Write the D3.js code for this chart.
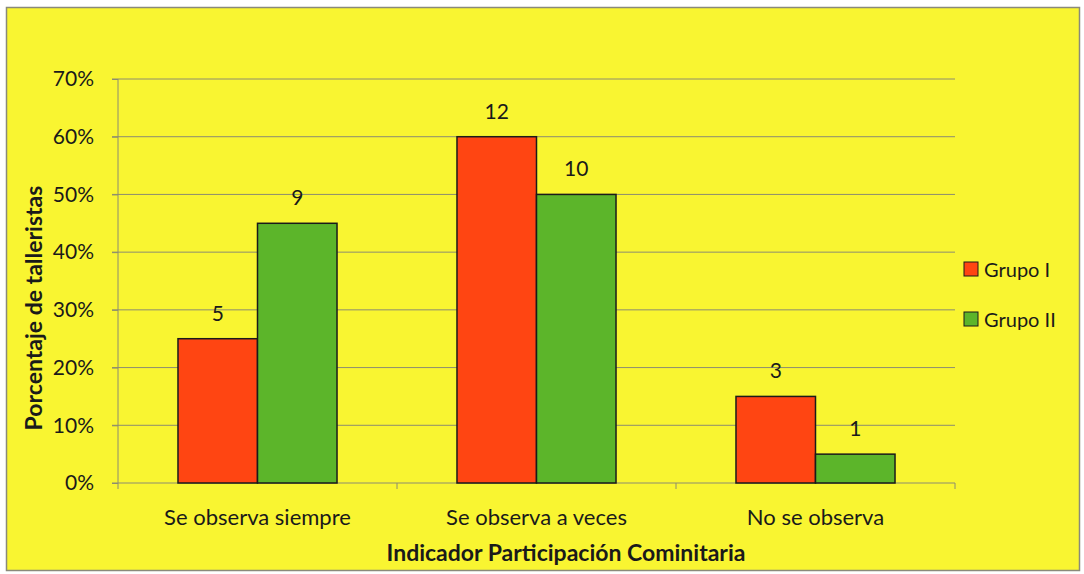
<!DOCTYPE html>
<html>
<head>
<meta charset="utf-8">
<script src="https://cdn.jsdelivr.net/npm/d3@7"></script>
<style>
  body { margin: 0; background: #ffffff; }
  text { font-family: Lato, "Open Sans", sans-serif; fill: #1a1a1a; }
</style>
</head>
<body>
<div id="chart"></div>
<script>
// datos
var categories = ['Se observa siempre', 'Se observa a veces', 'No se observa']
var series = ['Grupo I', 'Grupo II']
var grupo1 = [0.25, 0.60, 0.15]
var grupo2 = [0.45, 0.50, 0.05]
var counts1 = [5, 12, 3]
var counts2 = [9, 10, 1]
var yTicks = [0, 0.1, 0.2, 0.3, 0.4, 0.5, 0.6, 0.7]
var colors = ['#ff4512', '#5cb52a']

var W = 1084, H = 574
var margin = {top: 79, right: 129, bottom: 91, left: 118}
var width = W - margin.left - margin.right,
  height = H - margin.top - margin.bottom

var svg = d3.select('#chart').append('svg')
  .attr('width', W)
  .attr('height', H)

// fondo amarillo con borde
svg.append('rect')
  .attr('x', 6.5).attr('y', 7.5)
  .attr('width', 1073).attr('height', 563)
  .attr('fill', '#f9f531')
  .attr('stroke', '#8a8a7a')
  .attr('stroke-width', 1.5)

var g = svg.append('g')
  .attr('transform', 'translate(' + margin.left + ',' + margin.top + ')')

var x0 = d3.scaleBand().domain(categories).range([0, width]).paddingInner(0.43).paddingOuter(0.215)
var x1 = d3.scaleBand().domain(series).range([0, x0.bandwidth()])
var y = d3.scaleLinear().domain([0, 0.7]).range([height, 0])

// rejilla
g.selectAll('.grid')
  .data(yTicks.slice(1))
  .enter().append('line')
  .attr('x1', -6).attr('x2', width)
  .attr('y1', d => y(d)).attr('y2', d => y(d))
  .attr('stroke', '#8c8c70')
  .attr('stroke-width', 1)

// eje y
var yAxis = d3.axisLeft(y).tickValues(yTicks).tickFormat(d3.format('.0%')).tickSize(6).tickPadding(18)
g.append('g').call(yAxis)
  .call(a => {
    a.select('.domain').attr('stroke', '#8c8c70').attr('d', 'M0,0V' + height)
    a.selectAll('.tick line').attr('stroke', '#8c8c70')
    a.selectAll('.tick text').attr('font-size', '21px').attr('fill', '#1a1a1a').attr('font-family', 'Lato, sans-serif')
  })

// eje x
var bounds = d3.range(categories.length + 1).map(i => i * width / categories.length)
g.append('line')
  .attr('x1', -6).attr('x2', width)
  .attr('y1', height).attr('y2', height)
  .attr('stroke', '#8c8c70')
g.selectAll('.xtick')
  .data(bounds)
  .enter().append('line')
  .attr('x1', d => d).attr('x2', d => d)
  .attr('y1', height).attr('y2', height + 6)
  .attr('stroke', '#8c8c70')
g.selectAll('.xlabel')
  .data(categories)
  .enter().append('text')
  .attr('x', d => x0(d) + x0.bandwidth() / 2)
  .attr('y', height + 42)
  .attr('text-anchor', 'middle')
  .attr('font-size', '22px')
  .text(d => d)

// barras
var rows = categories.map((c, i) => ({
  cat: c,
  vals: [
    {s: series[0], v: grupo1[i], n: counts1[i]},
    {s: series[1], v: grupo2[i], n: counts2[i]}
  ]
}))
var grp = g.selectAll('.grp')
  .data(rows)
  .enter().append('g')
  .attr('transform', d => 'translate(' + x0(d.cat) + ',0)')
grp.selectAll('rect')
  .data(d => d.vals)
  .enter().append('rect')
  .attr('x', d => x1(d.s))
  .attr('y', d => y(d.v))
  .attr('width', x1.bandwidth())
  .attr('height', d => height - y(d.v))
  .attr('fill', (d, i) => colors[i])
  .attr('stroke', '#1a1a1a')
  .attr('stroke-width', 1.5)
grp.selectAll('.val')
  .data(d => d.vals)
  .enter().append('text')
  .attr('x', d => x1(d.s) + x1.bandwidth() / 2)
  .attr('y', d => y(d.v) - 18)
  .attr('text-anchor', 'middle')
  .attr('font-size', '21px')
  .text(d => d.n)

// titulos
svg.append('text')
  .attr('transform', 'translate(42,308) rotate(-90)')
  .attr('text-anchor', 'middle')
  .attr('font-size', '23px')
  .attr('font-weight', 'bold')
  .text('Porcentaje de talleristas')
svg.append('text')
  .attr('x', 566).attr('y', 561)
  .attr('text-anchor', 'middle')
  .attr('font-size', '23px')
  .attr('font-weight', 'bold')
  .text('Indicador Participación Cominitaria')

// leyenda
var legend = svg.append('g').attr('transform', 'translate(964,262)')
series.forEach((s, i) => {
  var row = legend.append('g').attr('transform', 'translate(0,' + i * 50 + ')')
  row.append('rect')
    .attr('width', 14).attr('height', 14)
    .attr('fill', colors[i])
    .attr('stroke', '#1a1a1a')
    .attr('stroke-width', 1)
  row.append('text')
    .attr('x', 20).attr('y', 15)
    .attr('font-size', '20px')
    .text(s)
})
</script>
</body>
</html>
